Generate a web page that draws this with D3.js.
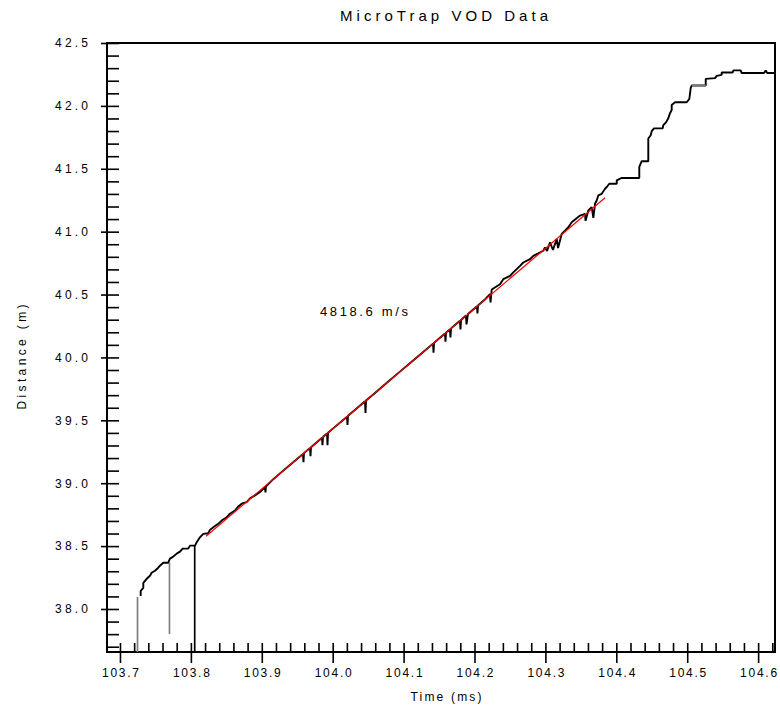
<!DOCTYPE html>
<html>
<head>
<meta charset="utf-8">
<script src="https://cdn.jsdelivr.net/npm/d3@7"></script>
<style>
  body { margin: 0; background: #fff; }
  svg { display: block; font-family: "Liberation Sans", Arial, sans-serif; }
</style>
</head>
<body>
<script>
// Axis tick labels
const xTickLabels = ["103.7", "103.8", "103.9", "104.0", "104.1", "104.2", "104.3", "104.4", "104.5", "104.6"];
const yTickLabels = ["38.0", "38.5", "39.0", "39.5", "40.0", "40.5", "41.0", "41.5", "42.0", "42.5"];

const traceTime = [
  103.7292, 103.7292, 103.7329, 103.7329, 103.7377, 103.7423, 103.7447, 103.7494, 103.7540, 103.7564,
  103.7611, 103.7681, 103.7705, 103.7752, 103.7800, 103.7846, 103.7884, 103.7963, 103.7987, 103.8058,
  103.8082, 103.8128, 103.8175, 103.8245, 103.8269, 103.8316, 103.8386, 103.8434, 103.8505, 103.8551,
  103.8622, 103.8669, 103.8716, 103.8787, 103.8834, 103.8904, 103.8975, 103.9045, 103.9052, 103.9059,
  103.9158, 103.9257, 103.9355, 103.9468, 103.9581, 103.9588, 103.9595, 103.9680, 103.9687, 103.9694,
  103.9793, 103.9849, 103.9856, 103.9863, 103.9920, 103.9927, 103.9934, 104.0032, 104.0202, 104.0209,
  104.0216, 104.0329, 104.0456, 104.0463, 104.0470, 104.0597, 104.0780, 104.0949, 104.1118, 104.1260,
  104.1415, 104.1422, 104.1429, 104.1513, 104.1584, 104.1591, 104.1598, 104.1654, 104.1661, 104.1669,
  104.1725, 104.1795, 104.1802, 104.1810, 104.1880, 104.1887, 104.1908, 104.1937, 104.2035, 104.2042,
  104.2049, 104.2134, 104.2219, 104.2226, 104.2243, 104.2360, 104.2406, 104.2501, 104.2547, 104.2595,
  104.2642, 104.2688, 104.2783, 104.2829, 104.2900, 104.2970, 104.2994, 104.3023, 104.3065, 104.3107,
  104.3159, 104.3178, 104.3230, 104.3276, 104.3323, 104.3371, 104.3441, 104.3488, 104.3559, 104.3566,
  104.3605, 104.3653, 104.3676, 104.3700, 104.3723, 104.3746, 104.3794, 104.3841, 104.3865, 104.3901,
  104.4006, 104.4006, 104.4076, 104.4324, 104.4324, 104.4358, 104.4451, 104.4451, 104.4485, 104.4499,
  104.4532, 104.4654, 104.4663, 104.4701, 104.4733, 104.4757, 104.4781, 104.4781, 104.4828, 104.4993,
  104.5030, 104.5049, 104.5063, 104.5261, 104.5261, 104.5392, 104.5416, 104.5486, 104.5486, 104.5641,
  104.5650, 104.5754, 104.5768, 104.6083, 104.6107, 104.6129, 104.6238
];
const traceDist = [
  38.104, 38.144, 38.168, 38.208, 38.240, 38.264, 38.288, 38.304, 38.328, 38.344,
  38.368, 38.368, 38.400, 38.416, 38.440, 38.456, 38.480, 38.480, 38.504, 38.504,
  38.530, 38.570, 38.597, 38.602, 38.629, 38.650, 38.677, 38.703, 38.730, 38.757,
  38.783, 38.815, 38.837, 38.850, 38.879, 38.903, 38.930, 38.967, 38.927, 38.974,
  39.030, 39.078, 39.125, 39.179, 39.233, 39.167, 39.239, 39.280, 39.215, 39.286,
  39.334, 39.361, 39.303, 39.367, 39.395, 39.303, 39.402, 39.448, 39.529, 39.463,
  39.536, 39.590, 39.651, 39.559, 39.657, 39.718, 39.806, 39.887, 39.968, 40.035,
  40.110, 40.038, 40.116, 40.157, 40.190, 40.126, 40.197, 40.225, 40.158, 40.231,
  40.258, 40.292, 40.222, 40.298, 40.333, 40.262, 40.346, 40.360, 40.407, 40.350,
  40.413, 40.454, 40.504, 40.438, 40.540, 40.582, 40.622, 40.648, 40.676, 40.702,
  40.728, 40.755, 40.782, 40.808, 40.827, 40.848, 40.875, 40.846, 40.915, 40.854,
  40.942, 40.870, 40.982, 41.008, 41.035, 41.075, 41.107, 41.128, 41.142, 41.086,
  41.168, 41.195, 41.110, 41.222, 41.248, 41.288, 41.301, 41.341, 41.355, 41.381,
  41.381, 41.408, 41.427, 41.427, 41.515, 41.560, 41.560, 41.741, 41.767, 41.799,
  41.821, 41.821, 41.847, 41.869, 41.901, 41.941, 41.967, 42.007, 42.029, 42.029,
  42.055, 42.141, 42.162, 42.162, 42.215, 42.221, 42.239, 42.247, 42.266, 42.266,
  42.282, 42.282, 42.261, 42.261, 42.282, 42.261, 42.261
];

// Signal dropouts (vertical lines): time, top and bottom distance
const grayDropTime = [103.7247, 103.7698];
const grayDropTop = [38.096, 38.368];
const grayDropBottom = [37.65, 37.800];
const blackDropTime = [103.8054];
const blackDropTop = [38.504];
const blackDropBottom = [37.65];

// Gray flat piece near the top of the trace
const grayStepTime = [104.5063, 104.5261];
const grayStepDist = [42.162, 42.162];

// Linear fit (velocity of detonation)
const fitTime = [103.8213, 104.3841];
const fitDist = [38.578, 41.269];
const fitLabel = "4818.6 m/s";
const fitLabelAt = [103.982, 40.366];

const width = 780;
const height = 711;
const marginLeft = 107, plotRight = 775, plotTop = 43, plotBottom = 652;

const svg = d3.select("body").append("svg")
  .attr("width", width)
  .attr("height", height);

svg.append("rect").attr("width", width).attr("height", height).attr("fill", "#fff");

const x = d3.scaleLinear().domain([103.6817, 104.6238]).range([marginLeft, plotRight]);
const y = d3.scaleLinear().domain([37.658, 42.5]).range([plotBottom, plotTop]);

svg.append("defs").append("clipPath").attr("id", "plot")
  .append("rect")
  .attr("x", marginLeft).attr("y", plotTop)
  .attr("width", plotRight - marginLeft).attr("height", plotBottom - plotTop);

// Title
svg.append("text")
  .attr("x", 444).attr("y", 21)
  .attr("text-anchor", "middle")
  .attr("font-size", 15)
  .attr("textLength", 208)
  .attr("lengthAdjust", "spacing")
  .text("MicroTrap VOD Data");

// Minor ticks (inside)
const minorX = d3.range(0, 47).map(i => 103.7 + i * 0.02);
const minorY = d3.range(0, 49).map(i => 37.7 + i * 0.1);

svg.append("g")
  .attr("transform", `translate(0,${plotBottom})`)
  .call(d3.axisBottom(x).tickValues(minorX).tickSize(-9).tickFormat(""))
  .call(g => g.select(".domain").remove());

svg.append("g")
  .attr("transform", `translate(${marginLeft},0)`)
  .call(d3.axisLeft(y).tickValues(minorY).tickSize(-12).tickFormat(""))
  .call(g => g.select(".domain").remove());

// Major ticks with labels
const xAxis = svg.append("g")
  .attr("transform", `translate(0,${plotBottom})`)
  .call(d3.axisBottom(x)
    .tickValues(xTickLabels.map(Number))
    .tickSize(11)
    .tickPadding(5)
    .tickFormat((d, i) => xTickLabels[i]))
  .call(g => g.select(".domain").remove());

xAxis.selectAll("text")
  .attr("font-size", 12)
  .attr("fill", "#000")
  .attr("textLength", 37)
  .attr("lengthAdjust", "spacing");

const yAxis = svg.append("g")
  .attr("transform", `translate(${marginLeft},0)`)
  .call(d3.axisLeft(y)
    .tickValues(yTickLabels.map(Number))
    .tickSize(6)
    .tickPadding(13)
    .tickFormat((d, i) => yTickLabels[i]))
  .call(g => g.select(".domain").remove());

yAxis.selectAll("text")
  .attr("font-size", 12)
  .attr("fill", "#000")
  .attr("textLength", 33)
  .attr("lengthAdjust", "spacing");

svg.selectAll(".tick line").attr("stroke", "#000").attr("stroke-width", 1.6);

// Frame
svg.append("rect")
  .attr("x", marginLeft).attr("y", plotTop)
  .attr("width", plotRight - marginLeft).attr("height", plotBottom - plotTop)
  .attr("fill", "none")
  .attr("stroke", "#000")
  .attr("stroke-width", 2);

// Axis titles
svg.append("text")
  .attr("transform", `translate(26,357) rotate(-90)`)
  .attr("text-anchor", "middle")
  .attr("font-size", 12)
  .attr("textLength", 105)
  .attr("lengthAdjust", "spacing")
  .text("Distance (m)");

svg.append("text")
  .attr("x", 446).attr("y", 701)
  .attr("text-anchor", "middle")
  .attr("font-size", 12)
  .attr("textLength", 71)
  .attr("lengthAdjust", "spacing")
  .text("Time (ms)");

// Data
const plot = svg.append("g").attr("clip-path", "url(#plot)");

const line = d3.line()
  .x(d => x(d[0]))
  .y(d => y(d[1]));

plot.selectAll(".gray-drop")
  .data(grayDropTime)
  .join("line")
  .attr("class", "gray-drop")
  .attr("x1", d => x(d)).attr("x2", d => x(d))
  .attr("y1", (d, i) => y(grayDropTop[i]))
  .attr("y2", (d, i) => y(grayDropBottom[i]))
  .attr("stroke", "#808080")
  .attr("stroke-width", 1.7);

plot.selectAll(".black-drop")
  .data(blackDropTime)
  .join("line")
  .attr("class", "black-drop")
  .attr("x1", d => x(d)).attr("x2", d => x(d))
  .attr("y1", (d, i) => y(blackDropTop[i]))
  .attr("y2", (d, i) => y(blackDropBottom[i]))
  .attr("stroke", "#000")
  .attr("stroke-width", 1.7);

plot.append("path")
  .datum(traceTime.map((t, i) => [t, traceDist[i]]))
  .attr("d", line)
  .attr("fill", "none")
  .attr("stroke", "#000")
  .attr("stroke-width", 1.9)
  .attr("stroke-linejoin", "bevel");

plot.append("path")
  .datum(grayStepTime.map((t, i) => [t, grayStepDist[i]]))
  .attr("d", line)
  .attr("fill", "none")
  .attr("stroke", "#808080")
  .attr("stroke-width", 2);

plot.append("path")
  .datum(fitTime.map((t, i) => [t, fitDist[i]]))
  .attr("d", line)
  .attr("fill", "none")
  .attr("stroke", "#ff0000")
  .attr("stroke-width", 1.2);

svg.append("text")
  .attr("x", x(fitLabelAt[0]))
  .attr("y", y(fitLabelAt[1]) + 5)
  .attr("font-size", 13)
  .attr("textLength", 88)
  .attr("lengthAdjust", "spacing")
  .text(fitLabel);
</script>
</body>
</html>
